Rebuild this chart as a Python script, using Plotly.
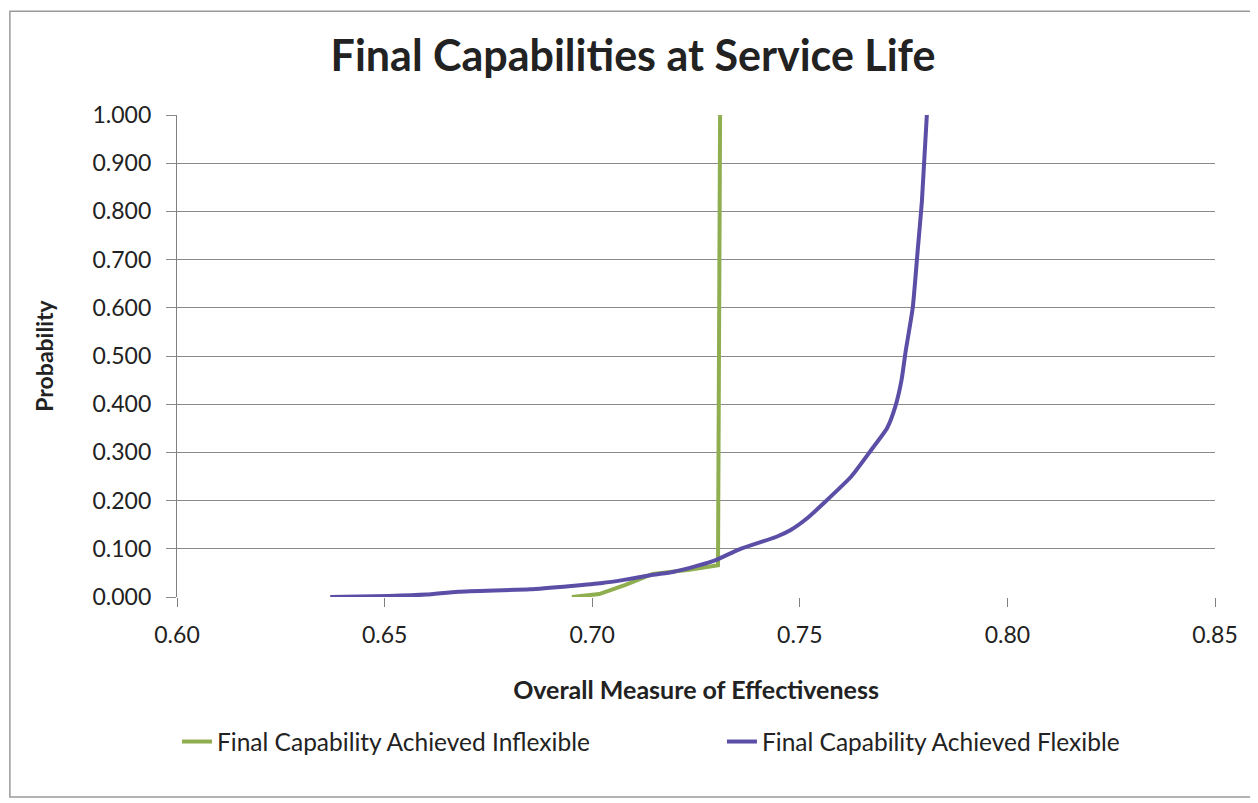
import plotly.graph_objects as go

# Inflexible capability CDF
inflex_x = [0.6951, 0.7017, 0.7080, 0.7146, 0.7230, 0.7303, 0.7308]
inflex_p = [0.000, 0.006, 0.025, 0.048, 0.056, 0.066, 1.000]

# Flexible capability CDF
flex_x = [0.6369, 0.6510, 0.6600, 0.6677, 0.6850, 0.6950, 0.7024, 0.7073, 0.7146,
          0.7194, 0.7250, 0.7299, 0.7357, 0.7444, 0.7478, 0.7520, 0.7558, 0.7624,
          0.7672, 0.7710, 0.7730, 0.7745, 0.7755, 0.7772, 0.7784, 0.7794, 0.7806]
flex_p = [0.000, 0.002, 0.005, 0.011, 0.016, 0.023, 0.029, 0.035, 0.046,
          0.052, 0.064, 0.077, 0.100, 0.125, 0.139, 0.165, 0.195, 0.250,
          0.305, 0.350, 0.395, 0.450, 0.510, 0.600, 0.720, 0.820, 1.000]

x_ticks = [0.60, 0.65, 0.70, 0.75, 0.80, 0.85]
y_ticks = [0.0, 0.1, 0.2, 0.3, 0.4, 0.5, 0.6, 0.7, 0.8, 0.9, 1.0]

FONT = "Lato, 'Open Sans', sans-serif"

fig = go.Figure()
fig.add_trace(go.Scatter(
    x=inflex_x, y=inflex_p, mode="lines",
    name="Final Capability Achieved Inflexible",
    line=dict(color="#8fae4f", width=4),
    legend="legend", showlegend=True,
))
fig.add_trace(go.Scatter(
    x=flex_x, y=flex_p, mode="lines",
    name="Final Capability Achieved Flexible",
    line=dict(color="#5a4ea6", width=4, shape="spline", smoothing=0.5),
    legend="legend2", showlegend=True,
))

# one legend per series so each entry sits where the original has it
leg = dict(orientation="h", xanchor="left", y=-0.30, yanchor="middle",
           font=dict(size=24.5), bgcolor="rgba(0,0,0,0)")

# page body has an 8px margin, so the figure is drawn 8px smaller
fig.update_layout(
    width=1250, height=795,
    margin=dict(l=169, r=43, t=107, b=206),
    paper_bgcolor="white", plot_bgcolor="white",
    font=dict(family=FONT, color="#222222", size=23),
    showlegend=True,
    title=dict(text="<b>Final Capabilities at Service Life</b>", x=0.5, xanchor="center",
               y=0.94, yanchor="middle", font=dict(size=43, color="#222222")),
    legend=dict(leg, x=0.0),
    legend2=dict(leg, x=0.525),
    shapes=[dict(type="rect", xref="paper", yref="paper",
                 x0=-0.161, x1=1.0447, y0=-0.415, y1=1.215,
                 line=dict(color="#9a9a9a", width=1.5))],
)
fig.update_xaxes(
    range=[0.60, 0.85], tickvals=x_ticks, tickformat=".2f",
    showgrid=False, zeroline=False,
    showline=False, ticks="outside", ticklen=9, tickcolor="#808080",
    ticklabelstandoff=8,
    title=dict(text="<b>Overall Measure of Effectiveness</b>", font=dict(size=25), standoff=34),
)
fig.update_yaxes(
    range=[0, 1.0], tickvals=y_ticks, tickformat=".3f",
    showgrid=True, gridcolor="#8a8a8a", gridwidth=1.2, zeroline=False,
    showline=True, linecolor="#808080", linewidth=1.2,
    ticks="outside", ticklen=10, tickcolor="#8a8a8a",
    ticklabelstandoff=10,
    title=dict(text="<b>Probability</b>", font=dict(size=23), standoff=32),
)

fig.write_html("out.html")
